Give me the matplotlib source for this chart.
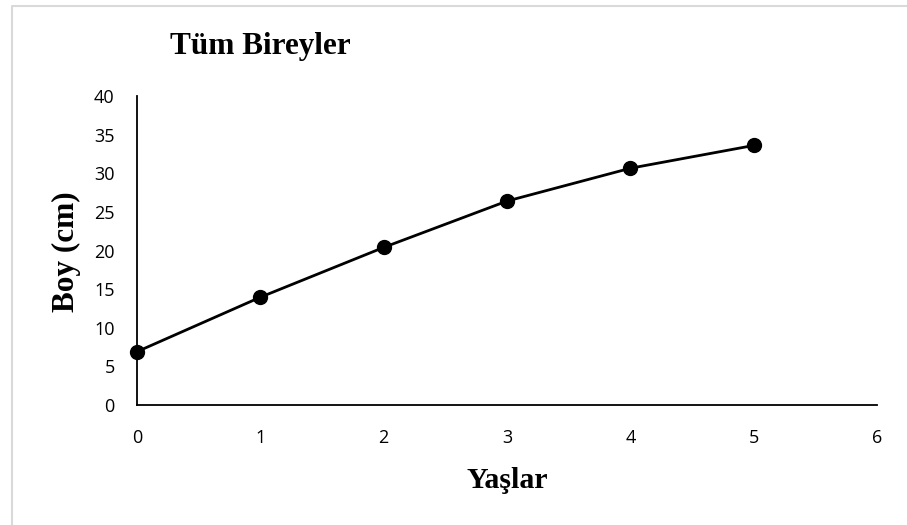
import matplotlib.pyplot as plt
from matplotlib.lines import Line2D

yas = [0, 1, 2, 3, 4, 5]
boy = [6.9, 13.95, 20.4, 26.4, 30.65, 33.6]
x_ticks = [0, 1, 2, 3, 4, 5, 6]
y_ticks = [0, 5, 10, 15, 20, 25, 30, 35, 40]

fig = plt.figure(figsize=(9.07, 5.25), dpi=100)
ax = fig.add_axes([0.151, 0.2286, 0.816, 0.5885])

ax.plot(yas, boy, color='black', lw=2, marker='o', markersize=10, clip_on=False, zorder=3)

ax.set_xlim(0, 6)
ax.set_ylim(0, 40)
ax.set_xticks(x_ticks)
ax.set_yticks(y_ticks)
ax.tick_params(length=0, labelsize=13)
ax.tick_params(axis='x', pad=17)
ax.tick_params(axis='y', pad=16)
for lab in ax.get_xticklabels() + ax.get_yticklabels():
    lab.set_family('Open Sans')
ax.spines['top'].set_visible(False)
ax.spines['right'].set_visible(False)
ax.spines['left'].set_linewidth(1.3)
ax.spines['bottom'].set_linewidth(1.3)

serif = 'Liberation Serif'
fig.text(170 / 907, 1 - 54 / 525, 'Tüm Bireyler', family=serif, weight='bold',
         fontsize=22.5, ha='left', va='baseline')
fig.text(507 / 907, 1 - 488 / 525, 'Yaşlar', family=serif, weight='bold',
         fontsize=21.5, ha='center', va='baseline')
fig.text(66 / 907, 1 - 252 / 525, 'Boy (cm)', family=serif, weight='bold',
         fontsize=22.5, ha='center', va='center', rotation=90)

# light grey frame: only left and top edges fall inside the image
fig.lines.append(Line2D([12 / 907, 12 / 907, 1.0], [0.0, 1 - 6 / 525, 1 - 6 / 525],
                        transform=fig.transFigure, color='#d9d9d9', lw=1.5))

fig.savefig('out.png', dpi=100)
